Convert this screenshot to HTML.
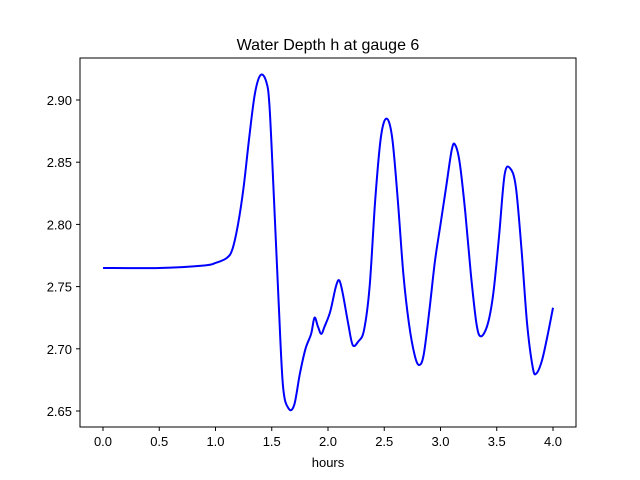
<!DOCTYPE html>
<html><head><meta charset="utf-8"><style>
body{margin:0;background:#fff;}
svg{display:block;font-family:"Liberation Sans",sans-serif;}
</style></head><body>
<svg id="chart" width="640" height="480">
<rect width="640" height="480" fill="#fff"/>
<text x="328" y="50" font-size="16" text-anchor="middle">Water Depth h at gauge 6</text>
<g id="xt"></g><g id="yt"></g>
<path id="line" fill="none" stroke="#0000ff" stroke-width="2" stroke-linejoin="round"/>
<rect x="80" y="58" width="496" height="369" fill="none" stroke="#000" stroke-width="1"/>
<text x="328" y="467" font-size="13" text-anchor="middle">hours</text>
</svg>
<script>
const xTicks=[0,0.5,1,1.5,2,2.5,3,3.5,4];
const yTicks=[2.65,2.70,2.75,2.80,2.85,2.90];
const times=[0,0.5,0.9,1.0,1.1,1.15,1.2,1.25,1.3,1.35,1.4,1.45,1.48,1.52,1.56,1.6,1.65,1.7,1.75,1.8,1.85,1.88,1.91,1.94,1.97,2.02,2.07,2.1,2.13,2.18,2.22,2.27,2.32,2.37,2.42,2.47,2.52,2.57,2.62,2.67,2.72,2.77,2.81,2.85,2.9,2.95,3.0,3.05,3.1,3.13,3.17,3.22,3.27,3.32,3.36,3.42,3.47,3.52,3.57,3.62,3.67,3.72,3.77,3.82,3.85,3.9,3.95,4.0];
const depths=[2.765,2.765,2.767,2.769,2.773,2.78,2.80,2.83,2.87,2.905,2.92,2.915,2.895,2.82,2.74,2.67,2.652,2.655,2.68,2.70,2.712,2.725,2.718,2.712,2.718,2.73,2.75,2.755,2.745,2.72,2.703,2.706,2.715,2.75,2.82,2.87,2.885,2.87,2.82,2.76,2.72,2.695,2.687,2.695,2.73,2.77,2.80,2.83,2.86,2.864,2.85,2.81,2.76,2.72,2.71,2.72,2.745,2.79,2.84,2.845,2.83,2.78,2.72,2.685,2.68,2.69,2.71,2.733];
const X=v=>103+v*112.5;
const Y=v=>411-(v-2.65)/0.05*62.2;
const NS="http://www.w3.org/2000/svg";
const xt=document.getElementById('xt'),yt=document.getElementById('yt');
xTicks.forEach(t=>{
 const l=document.createElementNS(NS,'line');
 l.setAttribute('x1',X(t));l.setAttribute('x2',X(t));l.setAttribute('y1',427);l.setAttribute('y2',431);l.setAttribute('stroke','#000');
 
 
 xt.appendChild(l);
 const s=document.createElementNS(NS,'text');
 s.setAttribute('x',X(t));s.setAttribute('y',446);s.setAttribute('font-size','13');s.setAttribute('text-anchor','middle');
 s.textContent=t.toFixed(1);
 
 
 xt.appendChild(s);
});
yTicks.forEach(t=>{
 const l=document.createElementNS(NS,'line');
 l.setAttribute('x1',76);l.setAttribute('x2',80);l.setAttribute('y1',Y(t));l.setAttribute('y2',Y(t));l.setAttribute('stroke','#000');
 
 
 yt.appendChild(l);
 const s=document.createElementNS(NS,'text');
 s.setAttribute('x',72);s.setAttribute('y',Y(t)+5);s.setAttribute('font-size','13');s.setAttribute('text-anchor','end');
 s.textContent=t.toFixed(2);
 
 
 yt.appendChild(s);
});
// Catmull-Rom smooth path
const P=times.map((t,i)=>[X(t),Y(depths[i])]);
let d='M'+P[0][0]+','+P[0][1];
for(let i=0;i<P.length-1;i++){
 const p0=P[i-1]||P[i],p1=P[i],p2=P[i+1],p3=P[i+2]||P[i+1];
 const c1=[p1[0]+(p2[0]-p0[0])/6,p1[1]+(p2[1]-p0[1])/6];
 const c2=[p2[0]-(p3[0]-p1[0])/6,p2[1]-(p3[1]-p1[1])/6];
 d+=`C${c1[0]},${c1[1]} ${c2[0]},${c2[1]} ${p2[0]},${p2[1]}`;
}
document.getElementById('line').setAttribute('d',d);
</script>
</body></html>
